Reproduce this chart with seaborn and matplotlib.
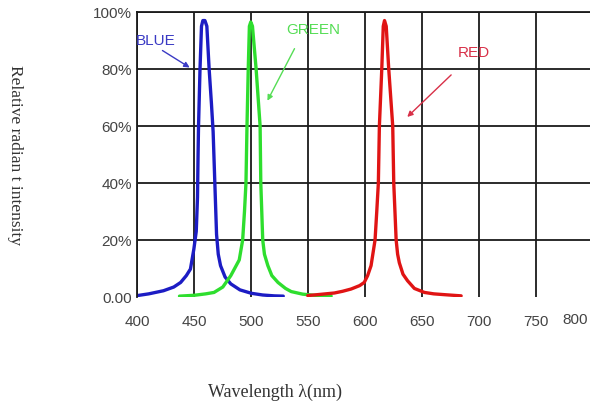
import pandas as pd
import matplotlib.pyplot as plt
import seaborn as sns

# spectrum values (wavelength nm, relative intensity %)
blue_wl = [400, 410, 423, 432, 438, 443, 446.6, 449.6, 451.7, 452.8, 453.3, 453.7,
           455, 456.3, 457.5, 459.3, 461, 463, 465, 466.5, 468, 469.5, 471, 473,
           477, 482, 490, 500, 510, 520, 528]
blue_int = [0.5, 1.1, 2.2, 3.5, 5.1, 7.5, 9.8, 16.8, 23, 35, 50, 60,
            80, 95, 97, 97, 95, 80, 68, 58, 40, 22, 15, 11,
            7, 4.6, 2.5, 1.3, 0.7, 0.4, 0.3]

green_wl = [437, 450, 460, 467.3, 475, 482, 489.4, 492.4, 494, 495.3, 496.2, 497.3,
            498.3, 499.5, 501, 504.2, 507.7, 508.3, 510, 511.5, 514.5, 518, 523.4,
            530, 535, 545, 555, 570]
green_int = [0.3, 0.6, 1.1, 1.6, 3.5, 7.5, 13, 20, 30, 40, 60, 80,
             95, 96.5, 95, 80, 60, 40, 20, 15, 11, 7.5, 5.1,
             3, 1.9, 1, 0.6, 0.3]

red_wl = [549.5, 560, 572.8, 580, 587.5, 595, 599, 602, 605, 608.5, 610, 611.4,
          612.3, 614.4, 615.7, 616.8, 618.3, 620.5, 624, 624.9, 627, 628.3, 629.8,
          633, 637, 643, 651.8, 660, 670, 684]
red_int = [0.5, 0.9, 1.4, 2, 2.8, 4, 5.1, 7.5, 11, 20, 30, 40,
           60, 80, 95, 97, 95, 80, 60, 40, 20, 15, 12,
           8, 5.7, 3, 1.6, 1.1, 0.8, 0.4]

x_ticks = [400, 450, 500, 550, 600, 650, 700, 750]
y_ticks = [0, 20, 40, 60, 80, 100]
y_labels = ['0.00', '20%', '40%', '60%', '80%', '100%']

data = pd.concat([
    pd.DataFrame({'wl': blue_wl, 'val': blue_int, 'led': 'BLUE'}),
    pd.DataFrame({'wl': green_wl, 'val': green_int, 'led': 'GREEN'}),
    pd.DataFrame({'wl': red_wl, 'val': red_int, 'led': 'RED'}),
])
colors = {'BLUE': '#1c1cc4', 'GREEN': '#2ede2e', 'RED': '#e01414'}

sns.set_style('white')
plt.rcParams['font.family'] = ['Liberation Sans', 'DejaVu Sans']

fig = plt.figure(figsize=(5.9, 4.14), dpi=100)
ax = fig.add_axes([0.2327, 0.2802, 0.7673, 0.6884])

sns.lineplot(data=data, x='wl', y='val', hue='led', palette=colors,
             estimator=None, sort=False, lw=2.4, legend=False, ax=ax)
ax.set_xlabel('')
ax.set_ylabel('')

ax.set_xlim(400, 797)
ax.set_ylim(0, 100)
ax.set_xticks(x_ticks)
ax.set_xticklabels([str(t) for t in x_ticks])
ax.set_yticks(y_ticks)
ax.set_yticklabels(y_labels)
ax.tick_params(axis='both', length=0, labelsize=11, labelcolor='#444444')
ax.tick_params(axis='x', pad=12)
ax.tick_params(axis='y', pad=4)

# grid like the datasheet: dark lines, no line at 0
ax.grid(True, color='#1a1a1a', lw=1.3)
ax.yaxis.get_gridlines()[0].set_visible(False)
for side in ['bottom', 'right']:
    ax.spines[side].set_visible(False)
for side in ['left', 'top']:
    ax.spines[side].set_color('#1a1a1a')
    ax.spines[side].set_linewidth(1.3)

# last tick label sits past the edge in the original
ax.annotate('800', xy=(784, 0), xycoords=('data', 'axes fraction'),
            xytext=(0, -11), textcoords='offset points', ha='center', va='top',
            fontsize=11, color='#444444', annotation_clip=False)

# curve labels with arrows
ax.text(399, 90, 'BLUE', color='#3a3ac4', fontsize=11, va='center', ha='left')
ax.annotate('', xy=(448, 80), xytext=(420, 87),
            arrowprops=dict(arrowstyle='-|>', color='#3a3ac4', lw=1, mutation_scale=8))
ax.text(554, 94, 'GREEN', color='#55dd55', fontsize=11, va='center', ha='center')
ax.annotate('', xy=(513, 68), xytext=(539, 88),
            arrowprops=dict(arrowstyle='-|>', color='#55dd55', lw=1, mutation_scale=8))
ax.text(695, 86, 'RED', color='#d83048', fontsize=11, va='center', ha='center')
ax.annotate('', xy=(635, 62.5), xytext=(677, 78.6),
            arrowprops=dict(arrowstyle='-|>', color='#d83048', lw=1, mutation_scale=8))

fig.text(0.466, 0.053, 'Wavelength λ(nm)', ha='center', va='center',
         fontsize=13, color='#333333', family=['Liberation Serif', 'DejaVu Serif'])
fig.text(0.025, 0.625, 'Relative radian t intensity', ha='center', va='center',
         rotation=270, fontsize=12.5, color='#333333',
         family=['Liberation Serif', 'DejaVu Serif'])

fig.savefig('out.png', dpi=100)
